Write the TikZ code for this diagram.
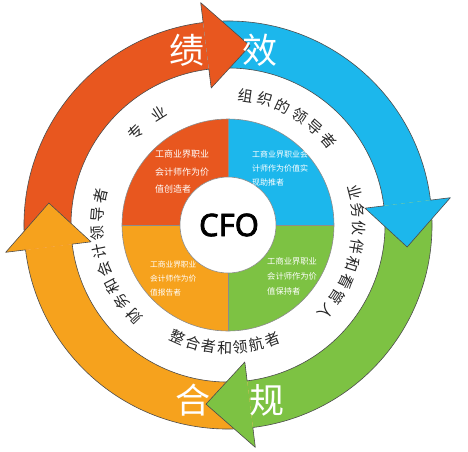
\documentclass[tikz,border=0pt]{standalone}
\usepackage{fontspec}
\setmainfont{Noto Sans CJK SC}
\newfontfamily\cfofont[AutoFakeBold=2.5]{Noto Sans}
\usepackage{xcolor}
\definecolor{perfred}{HTML}{E8571F}
\definecolor{perfblue}{HTML}{1CB7EC}
\definecolor{perfgreen}{HTML}{7DC243}
\definecolor{perforange}{HTML}{F6A21D}

\tikzset{
    ringline/.style={draw=black!70, line width=0.6pt, line join=round},
    pieline/.style={draw=black!45, line width=0.6pt},
    bigword/.style={text=white, font=\fontsize{35}{35}\selectfont},
    ringword/.style={font=\fontsize{15}{15}\selectfont, inner sep=0pt, text=black!85},
    quadtext/.style={anchor=north west, align=left, inner sep=0pt, text=white},
}

\begin{document}
\begin{tikzpicture}[x=1pt, y=1pt]
        % Sizes
        \pgfmathsetmacro{\rin}{157}
        \pgfmathsetmacro{\rout}{204}
        \pgfmathsetmacro{\rmid}{180.5}
        \pgfmathsetmacro{\hin}{138}
        \pgfmathsetmacro{\hout}{224}
        \pgfmathsetmacro{\hlen}{14}
        \pgfmathsetmacro{\rpie}{106}
        \pgfmathsetmacro{\rcore}{48}
        \pgfmathsetmacro{\rword}{131}
        \useasboundingbox (-228, -226) rectangle (240, 225);

        % ring bodies
        \foreach \col/\a/\b in {perfred/187/97, perfblue/97/7, perfgreen/7/-83, perforange/-83/-173} {
            \fill[\col] (\a:\rout) arc[start angle=\a, end angle=\b, radius=\rout]
                -- (\b:\rin) arc[start angle=\b, end angle=\a, radius=\rin] -- cycle;
            \draw[ringline] (\a:\rout) arc[start angle=\a, end angle=\b, radius=\rout];
            \draw[ringline] (\a:\rin) arc[start angle=\a, end angle=\b, radius=\rin];
        }

        % arrow heads
        \foreach \col/\b in {perfred/97, perfblue/7, perfgreen/-83, perforange/-173} {
            \pgfmathsetmacro{\t}{\b-\hlen}
            \fill[\col] (\b:\hout) -- (\t:\rmid) -- (\b:\hin) -- cycle;
            \draw[ringline] (\b:\rout) -- (\b:\hout) -- (\t:\rmid) -- (\b:\hin) -- (\b:\rin);
        }

        % pie
        \foreach \col/\s in {perfblue/0, perfred/90, perforange/180, perfgreen/270} {
            \fill[\col] (0,0) -- (\s:\rpie) arc[start angle=\s, end angle=\s+90, radius=\rpie] -- cycle;
        }
        \draw[pieline] (0,0) circle[radius=\rpie];
        \draw[pieline] (-\rpie,0) -- (\rpie,0);
        \draw[pieline] (0,-\rpie) -- (0,\rpie);
        \draw[pieline, fill=white] (0,0) circle[radius=\rcore];

        % labels
        \node[font=\cfofont\bfseries\fontsize{31}{31}\selectfont] (cfo) at (1, 0) {CFO};
        \node[quadtext, font=\fontsize{9}{17.5}\selectfont] (qred) at (-73, 75) {工商业界职业\\会计师作为价\\值创造者};
        \node[quadtext, font=\fontsize{8}{14}\selectfont] (qblue) at (24, 74.5) {工商业界职业会\\计师作为价值实\\现助推者};
        \node[quadtext, font=\fontsize{7.7}{14}\selectfont] (qorange) at (-78, -35.5) {工商业界职业\\会计师作为价\\值报告者};
        \node[quadtext, font=\fontsize{8.3}{15}\selectfont] (qgreen) at (39, -32.5) {工商业界职业\\会计师作为价\\值保持者};

        \node[bigword] (ji) at (-41, 175) {绩};
        \node[bigword] (xiao) at (32, 175) {效};
        \node[bigword] (he) at (-35, -175) {合};
        \node[bigword] (gui) at (39, -175) {规};

        % curved words
        \foreach \ch/\ang in {专/135, 业/122} {
            \node[ringword, rotate=\ang-90] at (\ang:\rword) {\ch};
        }
        \foreach \ch [count=\i from 0] in {组,织,的,领,导,者} {
            \pgfmathsetmacro{\ang}{82-8.4*\i}
            \node[ringword, rotate=\ang-90] at (\ang:\rword) {\ch};
        }
        \foreach \ch [count=\i from 0] in {业,务,伙,伴,和,看,管,人} {
            \pgfmathsetmacro{\ang}{14.5-8*\i}
            \node[ringword, rotate=\ang-90] at (\ang:\rword) {\ch};
        }
        \foreach \ch [count=\i from 0] in {财,务,和,会,计,领,导,者} {
            \pgfmathsetmacro{\ang}{224-8.1*\i}
            \node[ringword, rotate=\ang-90] at (\ang:\rword) {\ch};
        }
        \foreach \ch [count=\i from 0] in {整,合,者,和,领,航,者} {
            \pgfmathsetmacro{\ang}{-114+7.5*\i}
            \node[ringword, rotate=\ang+90] at (\ang:123) {\ch};
        }
\end{tikzpicture}
\end{document}
